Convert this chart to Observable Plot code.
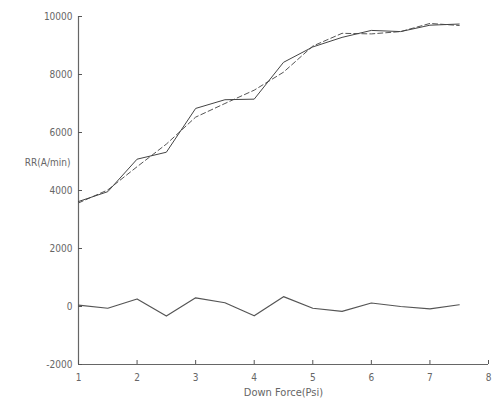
<!DOCTYPE html>
<html>
<head>
<meta charset="utf-8">
<script src="https://cdn.jsdelivr.net/npm/d3@7"></script>
<script src="https://cdn.jsdelivr.net/npm/@observablehq/plot@0.6"></script>
<style>
html,body{margin:0;padding:0;background:#fff;}
</style>
</head>
<body>
<div id="chart"></div>
<script>
const downForce = [1, 1.5, 2, 2.5, 3, 3.5, 4, 4.5, 5, 5.5, 6, 6.5, 7, 7.5];
const measured = [3620, 3960, 5080, 5320, 6830, 7130, 7150, 8420, 8950, 9280, 9520, 9480, 9700, 9740];
const fitted = [3570, 4020, 4820, 5600, 6530, 7000, 7460, 8080, 8980, 9420, 9400, 9480, 9760, 9690];
const residual = [50, -60, 260, -330, 300, 130, -320, 340, -60, -170, 120, 0, -80, 60];
const xTicks = [1, 2, 3, 4, 5, 6, 7, 8];
const yTicks = [-2000, 0, 2000, 4000, 6000, 8000, 10000];

const rows = downForce.map((x, i) => ({x, measured: measured[i], fitted: fitted[i], residual: residual[i]}));

const chart = Plot.plot({
  width: 492,
  height: 403,
  marginLeft: 78,
  marginRight: 4,
  marginTop: 16,
  marginBottom: 39,
  style: {fontFamily: "'Liberation Sans Narrow', 'DejaVu Sans Condensed', Arial, sans-serif", fontSize: "10px", color: "#555", background: "#fff"},
  x: {domain: [1, 8], ticks: xTicks},
  y: {domain: [-2000, 10000], ticks: yTicks},
  marks: [
    Plot.ruleX([1], {stroke: "#666", strokeWidth: 1.2}),
    Plot.ruleY([-2000], {stroke: "#666", strokeWidth: 1.2}),
    Plot.axisX({ticks: xTicks, tickSize: -4, tickPadding: 13, tickFormat: d => String(d), label: null, stroke: "#555", color: "#666"}),
    Plot.axisY({ticks: yTicks, tickSize: -4, tickPadding: 10, tickFormat: d => String(d), label: null, stroke: "#555", color: "#666"}),
    Plot.text(["Down Force(Psi)"], {frameAnchor: "bottom", dy: 31, fill: "#666", fontSize: 11}),
    Plot.text(["RR(A/min)"], {x: 1, y: 4950, dx: -8, textAnchor: "end", fill: "#666", fontSize: 10}),
    Plot.line(rows, {x: "x", y: "fitted", stroke: "#555", strokeWidth: 1, strokeDasharray: "5,3"}),
    Plot.line(rows, {x: "x", y: "measured", stroke: "#444", strokeWidth: 1}),
    Plot.line(rows, {x: "x", y: "residual", stroke: "#555", strokeWidth: 1.2})
  ]
});
document.getElementById("chart").append(chart);
</script>
</body>
</html>
